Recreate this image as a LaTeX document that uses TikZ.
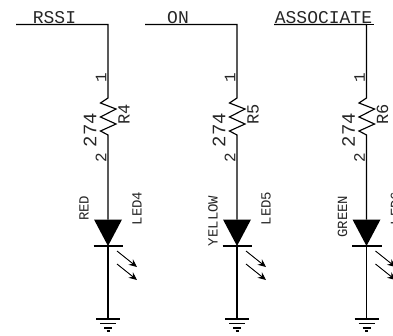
\documentclass[tikz,border=0pt]{standalone}
\usepackage{fontspec}
\setmonofont{Liberation Mono}
\usetikzlibrary{arrows.meta}
\tikzset{
  x=1pt,y=-1pt,
  wire/.style={line width=1.15pt,black},
  lbl/.style={inner sep=0pt,font=\ttfamily,text=black!85},
  net/.style={lbl,anchor=base,font=\ttfamily\fontsize{18}{18}\selectfont},
  vert/.style={lbl,rotate=90,anchor=#1},
  pin/.style={font=\ttfamily\fontsize{16}{16}\selectfont},
  val/.style={font=\ttfamily\fontsize{19}{19}\selectfont},
  refd/.style={font=\ttfamily\fontsize{17}{17}\selectfont},
  led/.style={font=\ttfamily\fontsize{14}{14}\selectfont},
  ray/.style={line width=0.9pt,-{Stealth[length=8pt,width=7pt]}},
}
\begin{document}
\begin{tikzpicture}
\useasboundingbox (0,0) rectangle (393,335);
\clip (0,0) rectangle (393,335);
\foreach \n/\x/\sx/\rn/\ln/\cl in {a/108/16/R4/LED4/RED,b/237/145/R5/LED5/YELLOW,c/366.5/274/R6/LED6/GREEN}{
  \coordinate (w\n) at (\sx,24.5);
  \coordinate (t\n) at (\x,24.5);
  \coordinate (r\n) at (\x,98);
  \coordinate (q\n) at (\x,135);
  \coordinate (d\n) at (\x,219.5);
  \coordinate (k\n) at (\x,246);
  \coordinate (g\n) at (\x,319);
  \draw[wire] (w\n) -- (t\n) -- (r\n) -- (\x-7.5,103) -- (\x+8,109) -- (\x-7.5,117) -- (\x+8,124) -- (\x-7.5,131) -- (q\n) -- (d\n);
  \draw[wire] (k\n) -- (g\n);
  \draw[wire] (\x-14.5,246) -- (\x+15,246);
  \fill (\x-14,219.5) -- (\x+14,219.5) -- (k\n) -- cycle;
  \draw[wire] (\x-12,319) -- (\x+12,319);
  \draw[wire] (\x-8,323.5) -- (\x+8,323.5);
  \draw[wire] (\x-4,328) -- (\x+4,328);
  \draw[wire] (\x-1.5,331) -- (\x+1.5,331);
  \coordinate (s1\n) at (\x+9,251);
  \coordinate (e1\n) at (\x+29,267);
  \coordinate (s2\n) at (\x+9,264);
  \coordinate (e2\n) at (\x+29,280);
  \draw[ray] (s1\n) -- (e1\n);
  \draw[ray] (s2\n) -- (e2\n);
  \node[vert=east,pin] (one\n) at (\x-7,73) {1};
  \node[vert=west,pin] (two\n) at (\x-7,163) {2};
  \node[vert=center,val] (val\n) at (\x-18,130) {274};
  \node[vert=center,refd] (ref\n) at (\x+16,114) {\rn};
  \node[vert=center,led] (ld\n) at (\x+29,208.5) {\ln};
  \node[vert=east,led] (col\n) at (\x-24,195.5) {\cl};
}
\draw[wire] (wc) -- (374,24.5);
\node[net] (rssi) at (54.5,23.5) {RSSI};
\node[net] (on) at (178,23.5) {ON};
\node[net] (assoc) at (323.5,23.5) {ASSOCIATE};
\end{tikzpicture}
\end{document}
